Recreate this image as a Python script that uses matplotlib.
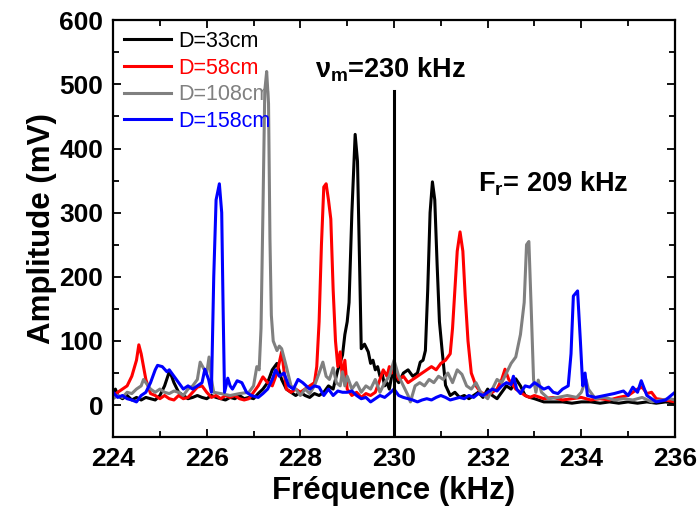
import matplotlib
matplotlib.use('Agg')
import matplotlib.pyplot as plt
from matplotlib.ticker import MultipleLocator

plt.rcParams['font.family'] = ['Liberation Sans', 'DejaVu Sans']
plt.rcParams['mathtext.fontset'] = 'custom'
plt.rcParams['mathtext.rm'] = 'Liberation Sans:bold'
plt.rcParams['mathtext.it'] = 'Liberation Sans:bold'
plt.rcParams['mathtext.bf'] = 'Liberation Sans:bold'

# (frequence kHz, amplitude mV)
d33 = [(224.0, 20), (224.05, 25), (224.1, 15), (224.2, 10), (224.3, 15), (224.4, 8),
       (224.5, 12), (224.6, 8), (224.7, 12), (224.8, 10), (224.9, 8), (225.0, 15),
       (225.1, 30), (225.2, 52), (225.25, 45), (225.3, 35), (225.4, 20), (225.5, 15),
       (225.6, 10), (225.7, 12), (225.8, 15), (225.9, 12), (226.0, 10), (226.1, 15),
       (226.2, 12), (226.3, 10), (226.4, 8), (226.5, 12), (226.6, 10), (226.7, 15),
       (226.8, 10), (226.9, 12), (227.0, 10), (227.1, 18), (227.2, 25), (227.3, 35),
       (227.4, 55), (227.5, 65), (227.6, 40), (227.7, 25), (227.8, 20), (227.9, 15),
       (228.0, 20), (228.1, 15), (228.2, 12), (228.3, 18), (228.4, 15), (228.5, 20),
       (228.6, 30), (228.7, 25), (228.8, 55), (228.9, 78), (228.95, 110), (229.0, 130),
       (229.04, 160), (229.1, 300), (229.17, 422), (229.22, 380), (229.27, 200),
       (229.3, 88), (229.37, 95), (229.45, 83), (229.5, 65), (229.55, 70), (229.6, 55),
       (229.65, 60), (229.7, 45), (229.75, 48), (229.8, 30), (229.85, 35), (229.9, 25),
       (229.95, 45), (230.0, 60), (230.05, 40), (230.1, 35), (230.2, 50), (230.3, 55),
       (230.4, 45), (230.5, 50), (230.56, 67), (230.62, 70), (230.67, 85), (230.72, 180),
       (230.77, 300), (230.82, 348), (230.87, 320), (230.92, 220), (230.97, 130),
       (231.03, 83), (231.1, 31), (231.2, 15), (231.3, 20), (231.4, 12), (231.5, 15),
       (231.6, 10), (231.7, 15), (231.8, 20), (231.9, 12), (232.0, 25), (232.1, 15),
       (232.2, 10), (232.3, 20), (232.4, 30), (232.5, 25), (232.6, 41), (232.7, 30),
       (232.8, 15), (232.9, 12), (233.0, 10), (233.2, 5), (233.4, 5), (233.6, 5),
       (233.8, 3), (234.0, 5), (234.2, 5), (234.4, 3), (234.6, 5), (234.8, 3),
       (235.0, 5), (235.2, 3), (235.4, 5), (235.6, 3), (235.8, 5), (236.0, 3)]

d58 = [(224.0, 15), (224.1, 20), (224.2, 25), (224.3, 30), (224.4, 45), (224.5, 70),
       (224.55, 94), (224.6, 80), (224.7, 40), (224.8, 18), (224.9, 15), (225.0, 10),
       (225.1, 15), (225.2, 10), (225.3, 8), (225.4, 15), (225.5, 10), (225.6, 12),
       (225.7, 20), (225.8, 28), (225.9, 30), (226.0, 20), (226.1, 12), (226.2, 15),
       (226.3, 10), (226.4, 15), (226.5, 12), (226.6, 15), (226.7, 10), (226.8, 8),
       (226.9, 10), (227.0, 20), (227.1, 30), (227.2, 44), (227.3, 35), (227.4, 30),
       (227.5, 50), (227.6, 83), (227.7, 25), (227.8, 20), (227.9, 25), (228.0, 20),
       (228.1, 25), (228.2, 30), (228.3, 35), (228.35, 60), (228.4, 130), (228.45, 250),
       (228.5, 340), (228.55, 345), (228.6, 320), (228.65, 290), (228.7, 180),
       (228.75, 100), (228.8, 60), (228.85, 83), (228.9, 40), (228.95, 70), (229.0, 25),
       (229.1, 15), (229.2, 20), (229.3, 12), (229.4, 18), (229.5, 15), (229.6, 20),
       (229.7, 40), (229.77, 55), (229.85, 45), (229.9, 60), (229.95, 50), (230.0, 55),
       (230.1, 40), (230.2, 45), (230.3, 35), (230.4, 40), (230.5, 45), (230.6, 50),
       (230.7, 55), (230.8, 60), (230.9, 55), (231.0, 65), (231.1, 70), (231.2, 80),
       (231.25, 120), (231.3, 180), (231.35, 240), (231.41, 270), (231.47, 240),
       (231.52, 170), (231.58, 100), (231.65, 50), (231.75, 30), (231.85, 20),
       (232.0, 15), (232.1, 20), (232.2, 25), (232.3, 40), (232.37, 56), (232.45, 40),
       (232.5, 35), (232.6, 25), (232.7, 20), (232.8, 15), (232.9, 12), (233.0, 15),
       (233.2, 10), (233.4, 12), (233.6, 8), (233.8, 10), (234.0, 12), (234.2, 8),
       (234.4, 10), (234.6, 8), (234.8, 12), (235.0, 15), (235.2, 25), (235.3, 28),
       (235.4, 18), (235.5, 20), (235.6, 10), (235.8, 8), (236.0, 5)]

d108 = [(224.0, 10), (224.1, 15), (224.2, 12), (224.3, 20), (224.4, 18), (224.5, 25),
        (224.6, 30), (224.65, 40), (224.7, 35), (224.8, 25), (224.9, 20), (225.0, 25),
        (225.1, 20), (225.2, 18), (225.3, 22), (225.4, 20), (225.5, 15), (225.6, 25),
        (225.7, 30), (225.8, 40), (225.86, 67), (225.95, 55), (226.0, 50), (226.05, 75),
        (226.1, 40), (226.15, 20), (226.3, 18), (226.5, 15), (226.7, 18), (226.9, 20),
        (227.0, 30), (227.07, 60), (227.12, 55), (227.16, 120), (227.2, 300),
        (227.24, 490), (227.28, 520), (227.32, 470), (227.35, 260), (227.38, 140),
        (227.42, 100), (227.5, 85), (227.55, 92), (227.6, 88), (227.7, 60), (227.8, 30),
        (227.9, 25), (228.0, 15), (228.1, 25), (228.2, 18), (228.3, 30), (228.4, 50),
        (228.48, 67), (228.55, 45), (228.62, 40), (228.7, 58), (228.77, 35),
        (228.85, 30), (228.9, 52), (228.95, 30), (229.0, 45), (229.1, 25), (229.2, 35),
        (229.3, 20), (229.4, 30), (229.5, 25), (229.6, 40), (229.7, 20), (229.8, 35),
        (229.9, 45), (230.0, 70), (230.1, 45), (230.2, 30), (230.3, 15), (230.35, 5),
        (230.45, 30), (230.55, 35), (230.65, 30), (230.75, 40), (230.85, 35),
        (230.95, 45), (231.05, 40), (231.15, 50), (231.25, 35), (231.35, 55),
        (231.45, 48), (231.55, 30), (231.65, 25), (231.75, 35), (231.85, 20),
        (232.0, 10), (232.1, 25), (232.2, 40), (232.3, 35), (232.4, 50), (232.5, 65),
        (232.6, 75), (232.7, 110), (232.78, 160), (232.83, 250), (232.88, 255),
        (232.93, 150), (232.98, 40), (233.03, 20), (233.08, 39), (233.15, 20),
        (233.3, 10), (233.5, 12), (233.7, 15), (233.9, 12), (234.0, 20), (234.1, 40),
        (234.15, 25), (234.3, 10), (234.5, 12), (234.7, 8), (234.9, 10), (235.1, 8),
        (235.3, 12), (235.5, 5), (235.7, 8), (235.9, 10), (236.0, 8)]

d158 = [(224.0, 20), (224.1, 12), (224.2, 15), (224.3, 10), (224.4, 8), (224.5, 5),
        (224.6, 15), (224.7, 20), (224.8, 35), (224.9, 55), (224.95, 62), (225.05, 60),
        (225.15, 52), (225.2, 55), (225.3, 45), (225.4, 35), (225.5, 25), (225.6, 30),
        (225.7, 25), (225.8, 30), (225.9, 35), (225.96, 56), (226.04, 40), (226.1, 20),
        (226.15, 200), (226.2, 320), (226.27, 345), (226.32, 300), (226.35, 150),
        (226.38, 20), (226.45, 42), (226.5, 30), (226.55, 25), (226.65, 38),
        (226.75, 35), (226.85, 20), (226.95, 15), (227.1, 12), (227.2, 18), (227.3, 25),
        (227.4, 40), (227.47, 55), (227.55, 45), (227.65, 50), (227.75, 30),
        (227.85, 25), (227.95, 40), (228.05, 35), (228.2, 25), (228.3, 30), (228.4, 28),
        (228.5, 15), (228.6, 25), (228.7, 15), (228.8, 22), (228.9, 20), (229.0, 20),
        (229.1, 22), (229.2, 15), (229.3, 10), (229.4, 12), (229.5, 5), (229.6, 10),
        (229.7, 15), (229.8, 12), (229.9, 18), (230.0, 25), (230.1, 15), (230.2, 12),
        (230.3, 10), (230.4, 8), (230.5, 5), (230.6, 8), (230.7, 10), (230.8, 8),
        (230.9, 12), (231.0, 15), (231.1, 12), (231.2, 8), (231.3, 10), (231.4, 12),
        (231.5, 10), (231.6, 15), (231.7, 12), (231.8, 18), (231.9, 15), (232.0, 20),
        (232.1, 25), (232.2, 22), (232.3, 30), (232.4, 35), (232.5, 32), (232.55, 45),
        (232.62, 25), (232.7, 18), (232.8, 30), (232.9, 28), (233.0, 35), (233.1, 30),
        (233.2, 25), (233.3, 28), (233.4, 20), (233.5, 18), (233.6, 25), (233.72, 30),
        (233.78, 80), (233.83, 170), (233.92, 178), (233.98, 100), (234.03, 30),
        (234.08, 50), (234.13, 15), (234.3, 12), (234.5, 15), (234.7, 18), (234.9, 22),
        (235.0, 15), (235.1, 28), (235.2, 20), (235.28, 38), (235.4, 15), (235.6, 5),
        (235.8, 8), (236.0, 20)]

nu_m = [(230.0, -50), (230.0, 490)]

series = [(d33, 'black', 'D=33cm'), (d58, 'red', 'D=58cm'),
          (d108, 'gray', 'D=108cm'), (d158, 'blue', 'D=158cm')]

fig = plt.figure(figsize=(6.98, 5.18), dpi=100)
ax = fig.add_axes([0.162, 0.156, 0.805, 0.805])

for data, color, label in series:
    f, a = zip(*data)
    ax.plot(f, a, color=color, lw=2.2, label=label)
f, a = zip(*nu_m)
ax.plot(f, a, color='black', lw=2.2)

ax.set_xlim(224, 236)
ax.set_ylim(-50, 600)
ax.xaxis.set_major_locator(MultipleLocator(2))
ax.xaxis.set_minor_locator(MultipleLocator(1))
ax.yaxis.set_major_locator(MultipleLocator(100))
ax.yaxis.set_minor_locator(MultipleLocator(50))
ax.tick_params(which='both', direction='in', top=True, right=True, width=1.3)
ax.tick_params(which='major', length=6, labelsize=19, pad=7)
ax.tick_params(which='minor', length=4)
for lab in ax.get_xticklabels() + ax.get_yticklabels():
    lab.set_fontweight('bold')
for sp in ax.spines.values():
    sp.set_linewidth(1.6)

ax.set_xlabel('Fréquence (kHz)', fontsize=22.5, fontweight='bold', labelpad=4)
ax.set_ylabel('Amplitude (mV)', fontsize=22.5, fontweight='bold', labelpad=2)

leg = ax.legend(loc='upper left', frameon=False, fontsize=15.5, handlelength=2.2,
                handletextpad=0.33, labelspacing=0.26, borderaxespad=0.25,
                borderpad=0.25)
for txt, (_, color, _) in zip(leg.get_texts(), series):
    txt.set_color(color)

ax.text(228.31, 522, r'$\nu_m$=230 kHz', fontsize=19.5, fontweight='bold', va='center')
ax.text(231.8, 345, r'F$_r$= 209 kHz', fontsize=19.5, fontweight='bold', va='center')

fig.savefig('out.png', dpi=100)
